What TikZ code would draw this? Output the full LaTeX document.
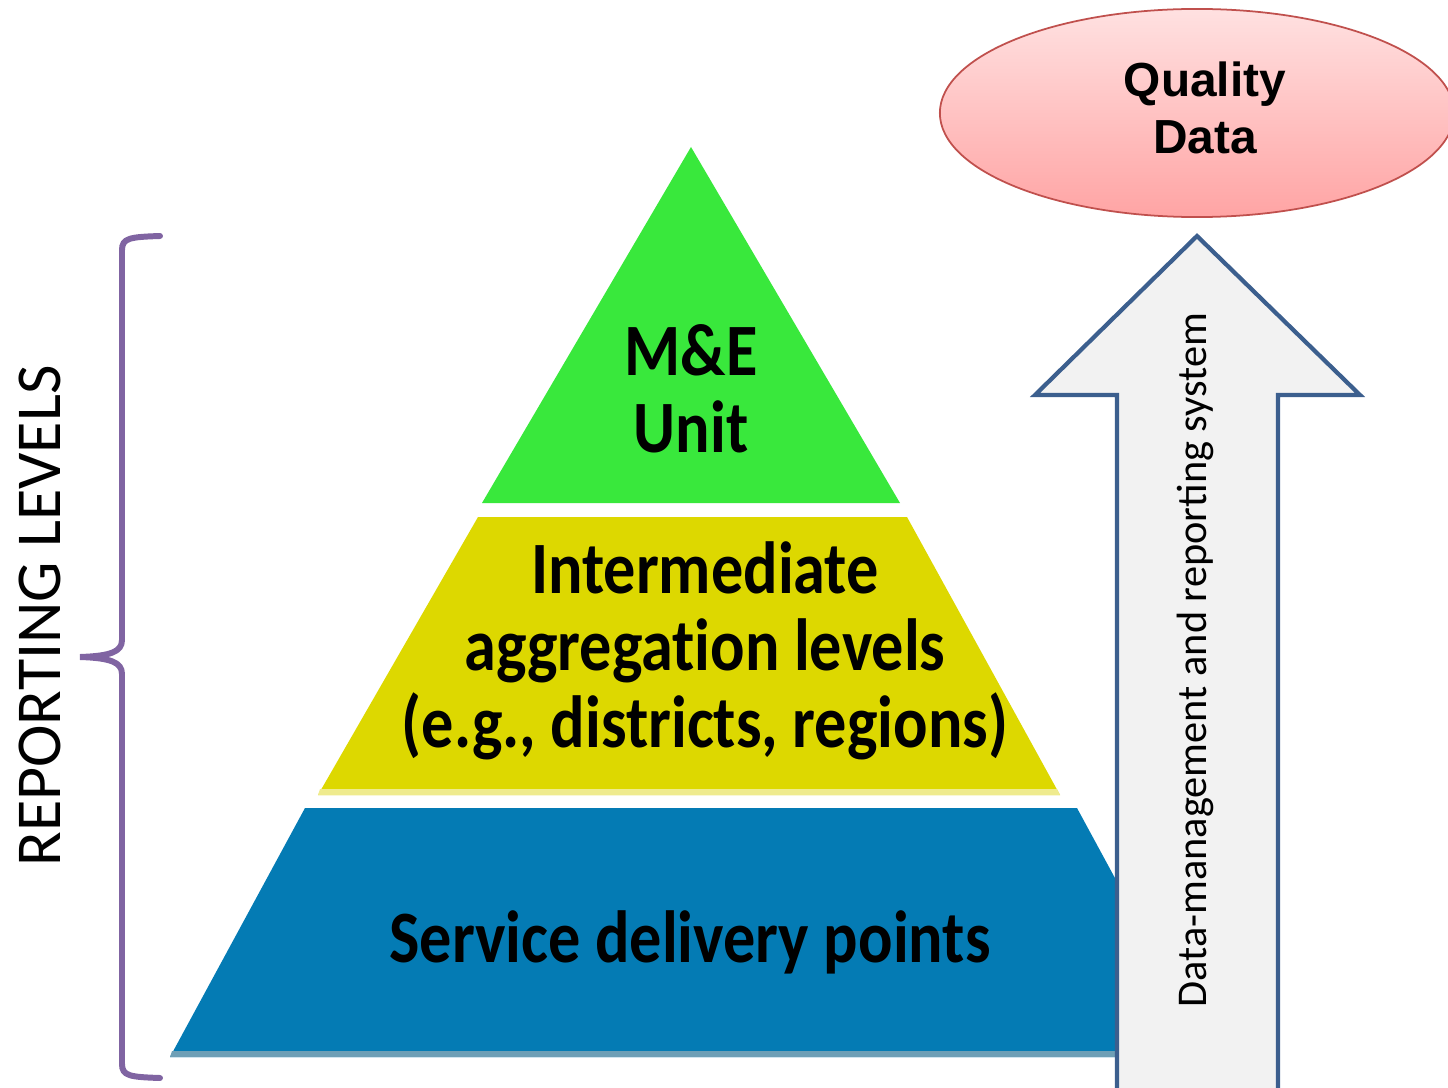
\documentclass[tikz,border=0pt]{standalone}
\usepackage{fontspec}
\setmainfont{Carlito}
\newfontfamily\levelfont{Carlito}[FakeStretch=0.87, Ligatures=NoCommon]
\newfontfamily\qualityfont{Liberation Sans}
\usetikzlibrary{shapes.geometric, positioning}

\definecolor{topGreen}{HTML}{39E83C}
\definecolor{midYellow}{HTML}{DDD800}
\definecolor{midYellowEdge}{HTML}{EFEB8E}
\definecolor{baseBlue}{HTML}{047BB4}
\definecolor{baseBlueEdge}{HTML}{6E9FB6}
\definecolor{braceViolet}{HTML}{8064A2}
\definecolor{arrowLine}{HTML}{3C5F8E}
\definecolor{arrowFill}{HTML}{F2F2F2}
\definecolor{ovalLine}{HTML}{C0504D}
\definecolor{ovalTop}{HTML}{FFE1E1}
\definecolor{ovalBottom}{HTML}{FFA4A4}

\begin{document}
\begin{tikzpicture}[x=0.01cm, y=-0.01cm,
    levellabel/.style={font=\levelfont\bfseries\fontsize{21}{21.8}\selectfont, align=center, text=black, inner sep=0pt},
    sidelabel/.style={font=\fontsize{18.2}{20}\selectfont, rotate=90, inner sep=0pt}]
\useasboundingbox (0,0) rectangle (1448,1088);
% pyramid levels
\fill[topGreen] (691,147) -- (900,503) -- (482,503) -- cycle;
\fill[midYellow] (478,517) -- (907,517) -- (1060,795) -- (318,795) -- cycle;
\fill[midYellowEdge] (320,789) -- (1057,789) -- (1060,795) -- (318,795) -- cycle;
\fill[baseBlue] (305,808) -- (1077,808) -- (1212,1057) -- (170,1057) -- cycle;
\fill[baseBlueEdge] (172,1051) -- (1209,1051) -- (1212,1057) -- (170,1057) -- cycle;
\node[levellabel] (meunit) at (691,389) {M\&E\\Unit};
\node[levellabel] (aggregation) at (705,651) {Intermediate\\aggregation levels\\(e.g., districts, regions)};
\node[levellabel] (delivery) at (690,942) {Service delivery points};
% reporting arrow
\filldraw[fill=arrowFill, draw=arrowLine, line width=1.2pt, line join=miter]
    (1117,1100) -- (1117,395) -- (1035,395) -- (1197,236) -- (1360,395) -- (1278,395) -- (1278,1100) -- cycle;
\node[font=\fontsize{12.05}{14}\selectfont, rotate=90, inner sep=0pt] (flow) at (1195,660) {Data-management and reporting system};
% quality data oval
\node[ellipse, draw=ovalLine, line width=0.5pt, top color=ovalTop, bottom color=ovalBottom,
    minimum width=5.14cm, minimum height=2.08cm] (quality) at (1197,113) {};
\node[font=\qualityfont\bfseries\fontsize{13.6}{16.2}\selectfont, align=center, inner sep=0pt] (qualitytext) at (1205,108) {Quality\\Data};
% brace
\draw[braceViolet, line width=1.7pt, line cap=round]
    (160,236) .. controls (130,237) and (122,238) .. (122,250) -- (122,640)
    .. controls (122,652) and (110,656) .. (80,657)
    .. controls (110,658) and (122,662) .. (122,674) -- (122,1064)
    .. controls (122,1076) and (130,1077) .. (160,1078);
\node[sidelabel] (levels) at (40,616) {REPORTING LEVELS};
\end{tikzpicture}
\end{document}
